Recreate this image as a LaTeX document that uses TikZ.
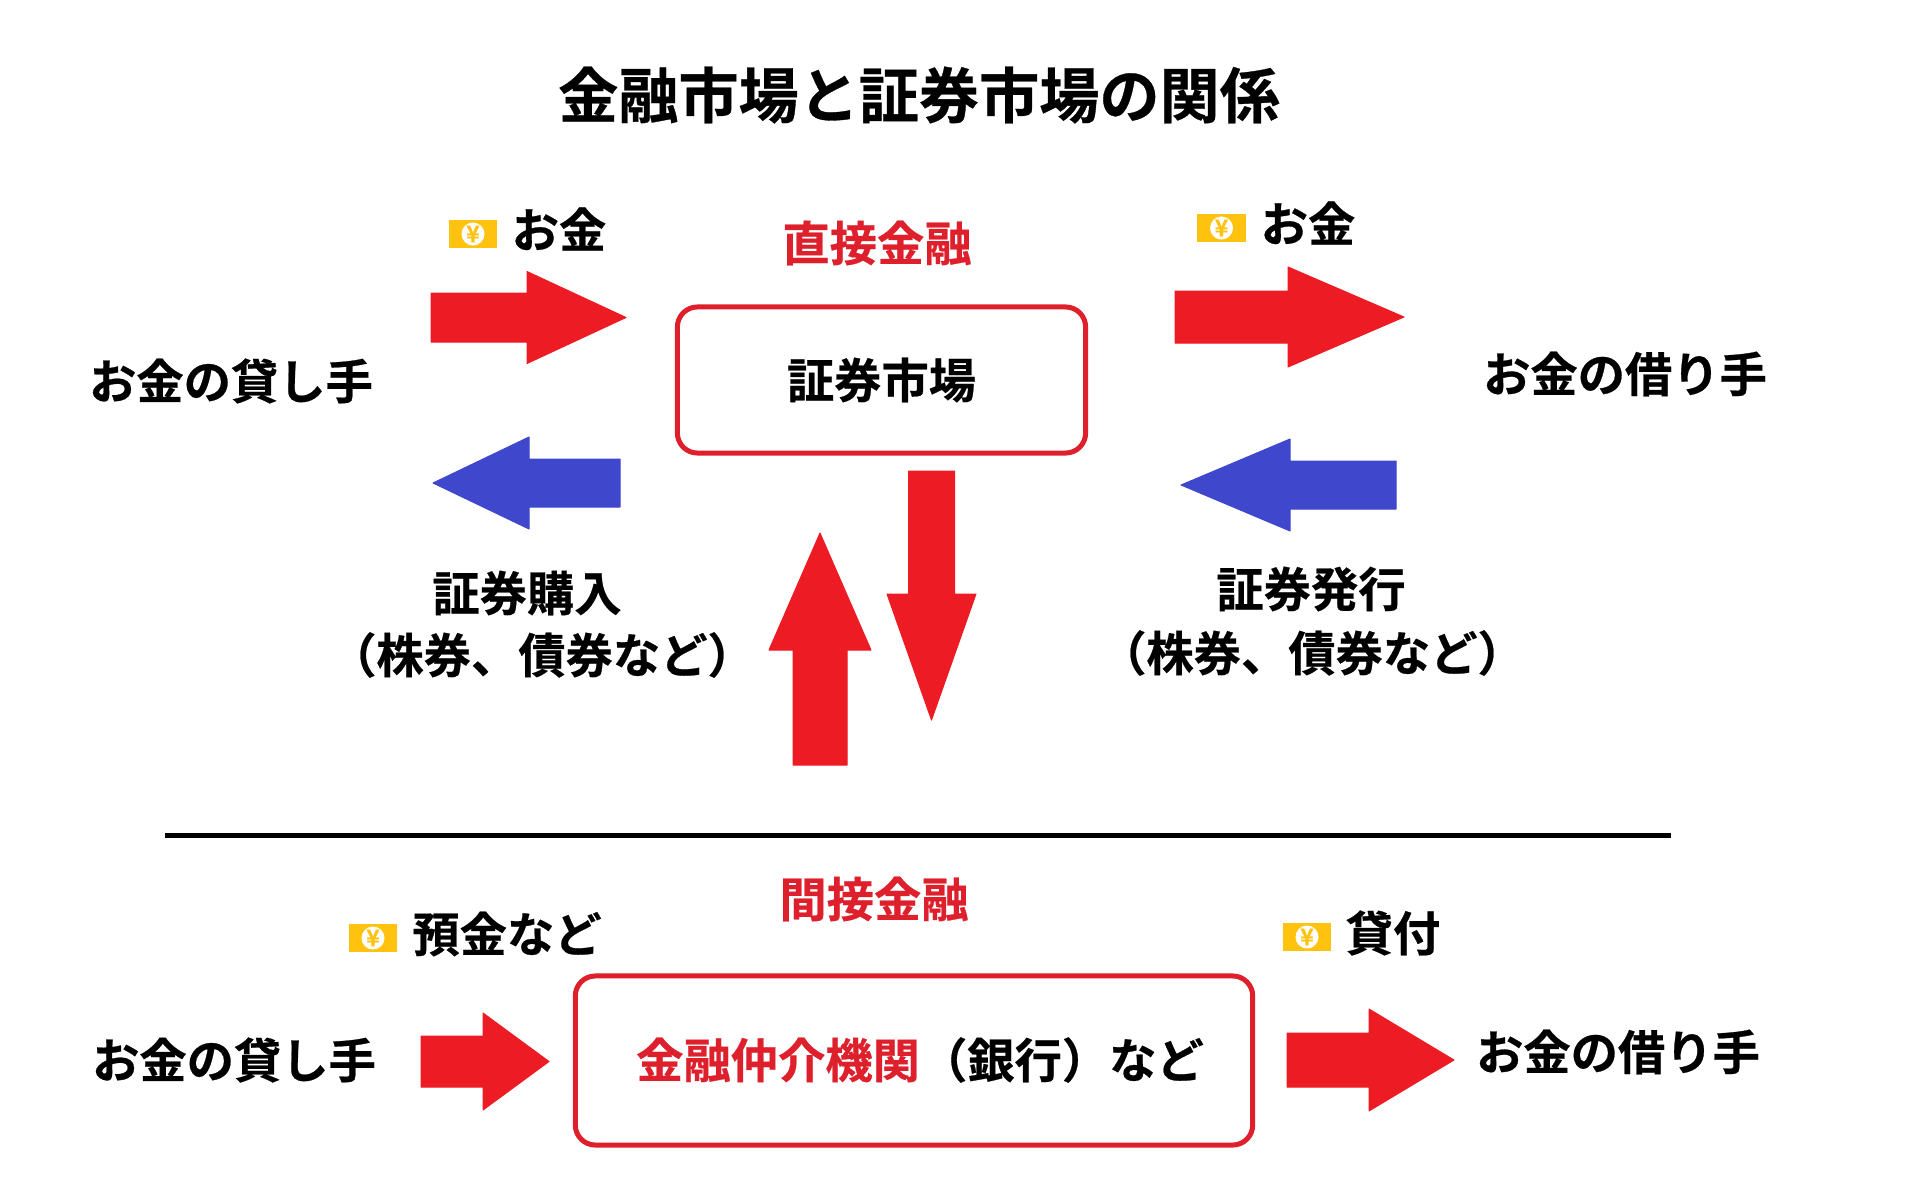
\documentclass[tikz,border=0pt]{standalone}
\usepackage{fontspec}
\setmainfont{Noto Sans CJK JP}[BoldFont={Noto Sans CJK JP Bold}, BoldFeatures={FakeBold=0.5}]
\usetikzlibrary{positioning}
\definecolor{arrred}{RGB}{237, 28, 36}
\definecolor{arrblue}{RGB}{63, 72, 204}
\definecolor{boxred}{RGB}{222, 32, 44}
\definecolor{billyellow}{RGB}{255, 194, 14}

\begin{document}
\begin{tikzpicture}[x=0.01cm, y=-0.01cm,
        lbl/.style={font=\fontsize{13.45pt}{16pt}\selectfont\bfseries, align=center, inner sep=0pt},
        head/.style={lbl, text=boxred},
        ttl/.style={font=\fontsize{17.1pt}{20pt}\selectfont\bfseries, inner sep=0pt},
        box/.style={draw=boxred, line width=0.05cm, rounded corners=0.2cm, fill=white, lbl},
        bill/.style={fill=billyellow, minimum width=0.48cm, minimum height=0.28cm, inner sep=0pt},
        coin/.style={fill=white, circle, minimum size=0.23cm, inner sep=0pt, text=billyellow, font=\fontsize{6.5pt}{7pt}\selectfont\bfseries}
      ]
        \useasboundingbox (0,0) rectangle (1920,1200);
        \node[ttl] (title) at (919,95) {金融市場と証券市場の関係};

        % top half
        \node[head] (direct) at (877,243) {直接金融};
        \node[box, minimum width=4.08cm, minimum height=1.46cm] (market) at (881.5,380) {証券市場};
        \node[lbl] (lendtop) at (231,381) {お金の貸し手};
        \node[lbl] (borrowtop) at (1625,374) {お金の借り手};
        \node[lbl] (moneyl) at (559,229) {お金};
        \node[lbl] (moneyr) at (1308,223) {お金};
        \node[lbl] (buy) at (527,593) {証券購入};
        \node[lbl] (buynote) at (542,655) {（株券、債券など）};
        \node[lbl] (issue) at (1311,589) {証券発行};
        \node[lbl] (issuenote) at (1312,653) {（株券、債券など）};

        % divider
        \coordinate (divl) at (165,835);
        \coordinate (divr) at (1671,835);
        \draw[line width=0.05cm] (divl) -- (divr);

        % bottom half
        \node[head] (indirect) at (874,899) {間接金融};
        \node[box, minimum width=6.77cm, minimum height=1.69cm] (bank) at (914,1060.5) {};
        \node[lbl] (banktext) at (920,1060) {\textcolor{boxred}{金融仲介機関}（銀行）など};
        \node[lbl] (lendbot) at (234,1060) {お金の貸し手};
        \node[lbl] (borrowbot) at (1618,1052) {お金の借り手};
        \node[lbl] (deposit) at (507,934) {預金など};
        \node[lbl] (loan) at (1393,933) {貸付};

        % yen bills
        \foreach \name/\x/\y in {billa/473/234, billb/1221.5/228, billc/373/938, billd/1307/937} {
          \node[bill] (\name) at (\x,\y) {};
          \node[coin] at (\name) {¥};
        }

        % block arrows: tail x/y, angle, length, head start, half shaft, half head
        \foreach \c/\x/\y/\r/\len/\hs/\sh/\hd in {
            arrred/431/317.5/0/195/96/24.5/46,
            arrred/1175/317/0/229/113/26/50,
            arrblue/620/483/180/187/91/24/46,
            arrblue/1396/485/180/215/106/24/46,
            arrred/820/765/90/232/115/27/51,
            arrred/931.5/471/-90/249/123/23/44.5,
            arrred/421/1061.5/0/128/62/25.5/48.5,
            arrred/1287/1060/0/167/82/27/51} {
          \begin{scope}[shift={(\x,\y)}, rotate=\r]
            \fill[\c, draw=\c, line join=round, line width=0.01cm]
              (0,-\sh) -- (\hs,-\sh) -- (\hs,-\hd) -- (\len,0) -- (\hs,\hd) -- (\hs,\sh) -- (0,\sh) -- cycle;
          \end{scope}
        }
      \end{tikzpicture}
\end{document}
